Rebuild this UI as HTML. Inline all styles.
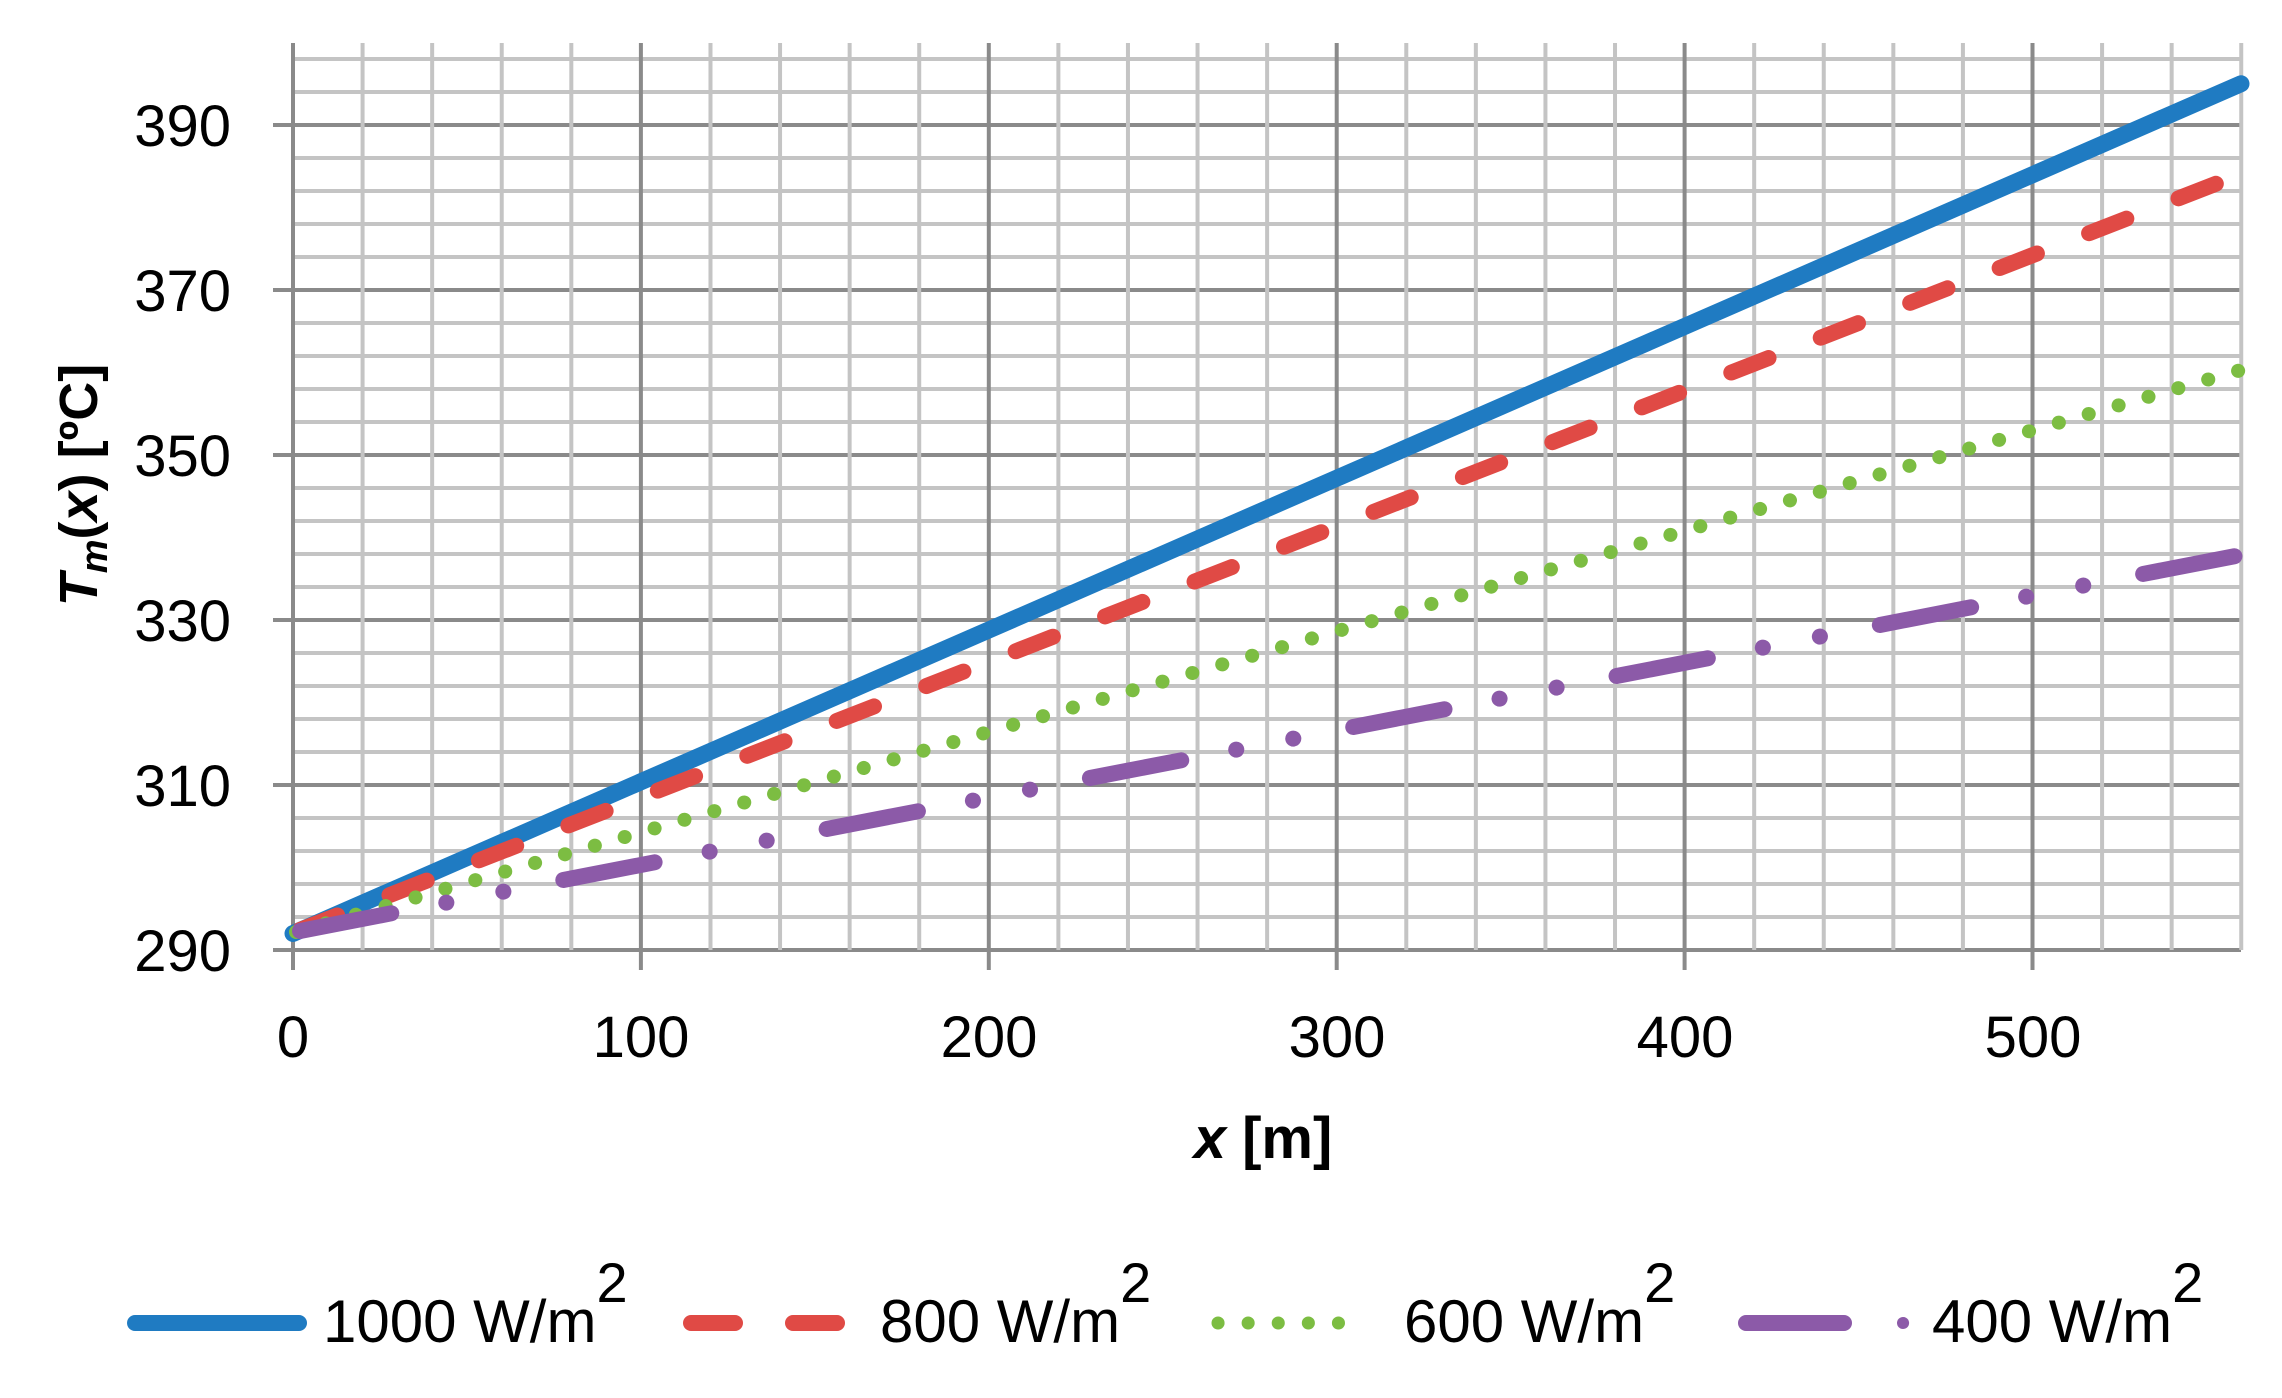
<!DOCTYPE html>
<html><head><meta charset="utf-8"><style>
html,body{margin:0;padding:0;background:#fff;}
svg{display:block;}
text{font-family:"Liberation Sans",sans-serif;fill:#000;}
</style></head><body>
<svg width="2282" height="1398" viewBox="0 0 2282 1398" xmlns="http://www.w3.org/2000/svg">
<g id="grid"></g>
<script>
(function(){
var X0=293,PX=3.479,Y0=950,PY=8.25;
var g=document.getElementById('grid'),ns='http://www.w3.org/2000/svg';
function L(x1,y1,x2,y2,c,w){var l=document.createElementNS(ns,'line');l.setAttribute('x1',x1);l.setAttribute('y1',y1);l.setAttribute('x2',x2);l.setAttribute('y2',y2);l.setAttribute('stroke',c);l.setAttribute('stroke-width',w);g.appendChild(l);}
for(var v=290;v<=398;v+=4){var y=Y0-(v-290)*PY;var maj=(v-290)%20==0;L(maj?273:X0,y,2241,y,maj?'#8a8a8a':'#c4c4c4',4);}
for(var m=0;m<=560;m+=20){var x=X0+m*PX;var maj=m%100==0;L(x,43,x,maj?970:950,maj?'#8a8a8a':'#c4c4c4',4);}
})();
</script>
<g stroke-linecap="round" fill="none">
<path d="M293 933.5 L2241 83.75" stroke="#1f7bc2" stroke-width="17"/>
<path d="M300 930 L2241 174" stroke="#e04a45" stroke-width="16" stroke-dasharray="40 56"/>
<path d="M296 932 L2241 370" stroke="#7cbd42" stroke-width="14" stroke-dasharray="0.1 31"/>
<path d="M300 931 L2241 555" stroke="#8c5aa8" stroke-width="16" stroke-dasharray="93 56 0.1 58 0.1 61"/>
</g>
<g font-size="58" text-anchor="end">
<text x="231" y="146">390</text>
<text x="231" y="311">370</text>
<text x="231" y="476">350</text>
<text x="231" y="641">330</text>
<text x="231" y="806">310</text>
<text x="231" y="971">290</text>
</g>
<g font-size="58" text-anchor="middle">
<text x="293" y="1057">0</text>
<text x="641" y="1057">100</text>
<text x="989" y="1057">200</text>
<text x="1337" y="1057">300</text>
<text x="1685" y="1057">400</text>
<text x="2033" y="1057">500</text>
</g>
<text x="1263" y="1158" font-size="58" font-weight="bold" text-anchor="middle"><tspan font-style="italic">x</tspan> [m]</text>
<text transform="translate(97,485) rotate(-90)" font-size="54" font-weight="bold" text-anchor="middle"><tspan font-style="italic">T</tspan><tspan font-style="italic" font-size="38" dy="10">m</tspan><tspan dy="-10">(</tspan><tspan font-style="italic">x</tspan>) [ºC]</text>
<g stroke-linecap="round">
<line x1="135" y1="1323" x2="299" y2="1323" stroke="#1f7bc2" stroke-width="16"/>
<line x1="691" y1="1323" x2="735" y2="1323" stroke="#e04a45" stroke-width="16"/>
<line x1="793" y1="1323" x2="837" y2="1323" stroke="#e04a45" stroke-width="16"/>
<line x1="1218" y1="1323" x2="1368" y2="1323" stroke="#7cbd42" stroke-width="13" stroke-dasharray="0.1 30"/>
<line x1="1746" y1="1323" x2="1844" y2="1323" stroke="#8c5aa8" stroke-width="16"/>
<line x1="1903" y1="1323" x2="1903.1" y2="1323" stroke="#8c5aa8" stroke-width="12"/>
</g>
<g font-size="60">
<text x="323" y="1342">1000 W/m<tspan dy="-40" font-size="56">2</tspan></text>
<text x="880" y="1342">800 W/m<tspan dy="-40" font-size="56">2</tspan></text>
<text x="1404" y="1342">600 W/m<tspan dy="-40" font-size="56">2</tspan></text>
<text x="1932" y="1342">400 W/m<tspan dy="-40" font-size="56">2</tspan></text>
</g>
</svg>
</body></html>
